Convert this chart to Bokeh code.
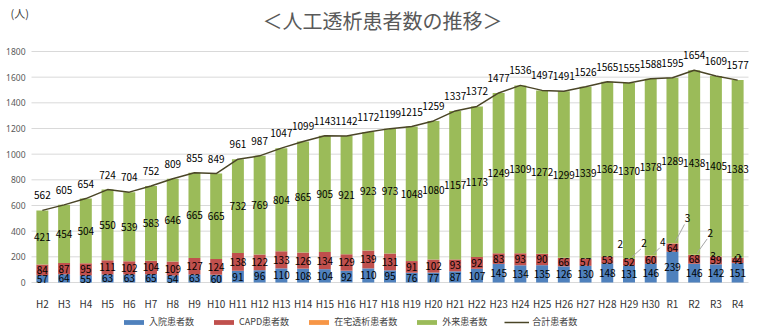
from bokeh.plotting import figure
from bokeh.models import (ColumnDataSource, Range1d, FixedTicker, Legend, LegendItem)
from bokeh.core.properties import value
from bokeh.embed import file_html
from bokeh.resources import INLINE

categories = ["H2", "H3", "H4", "H5", "H6", "H7", "H8", "H9", "H10", "H11", "H12", "H13",
              "H14", "H15", "H16", "H17", "H18", "H19", "H20", "H21", "H22", "H23", "H24",
              "H25", "H26", "H27", "H28", "H29", "H30", "R1", "R2", "R3", "R4"]
inpatient = [57, 64, 55, 63, 63, 65, 54, 63, 60, 91, 96, 110, 108, 104, 92, 110, 95, 76, 77,
             87, 107, 145, 134, 135, 126, 130, 148, 131, 146, 239, 146, 142, 151]
capd = [84, 87, 95, 111, 102, 104, 109, 127, 124, 138, 122, 133, 126, 134, 129, 139, 131, 91,
        102, 93, 92, 83, 93, 90, 66, 57, 53, 52, 60, 64, 68, 59, 41]
home = [0] * 26 + [2, 2, 4, 3, 2, 3, 2]
outpatient = [421, 454, 504, 550, 539, 583, 646, 665, 665, 732, 769, 804, 865, 905, 921, 923,
              973, 1048, 1080, 1157, 1173, 1249, 1309, 1272, 1299, 1339, 1362, 1370, 1378,
              1289, 1438, 1405, 1383]
total = [562, 605, 654, 724, 704, 752, 809, 855, 849, 961, 987, 1047, 1099, 1143, 1142, 1172,
         1199, 1215, 1259, 1337, 1372, 1477, 1536, 1497, 1491, 1526, 1565, 1555, 1588, 1595,
         1654, 1609, 1577]
y_ticks = [0, 200, 400, 600, 800, 1000, 1200, 1400, 1600, 1800]
Y_MAX = 1800
title_text = "＜人工透析患者数の推移＞"
unit_text = "(人)"

# home-dialysis label pixel offsets (layout only)
home_dx = [13, 15, 12, 15, 16, -3, 1]
home_dy = [-13, -16, -14, -25, -22, -1, 0]
home_leader = [False, True, True, True, True, False, False]

BLUE, RED, ORANGE, GREEN, LINE = "#4F81BD", "#C0504D", "#F79646", "#9BBB59", "#4A4527"
FONT = "Noto Sans CJK JP"
NUM_FONT = "Noto Sans"

W, H = 757, 336
# plot-area placement inside the canvas (pixels)
PL, PR, PT, PB = 31, 9, 51, 54

n = len(categories)
xs = list(range(n))
b0 = [0] * n
b1 = inpatient
b2 = [a + c for a, c in zip(inpatient, capd)]
b3 = [a + h for a, h in zip(b2, home)]
b4 = [a + o for a, o in zip(b3, outpatient)]

src = ColumnDataSource(dict(
    x=xs, b0=b0, b1=b1, b2=b2, b3=b3, b4=b4, total=total,
    m_in=[(a + b) / 2 for a, b in zip(b0, b1)],
    m_capd=[(a + b) / 2 for a, b in zip(b1, b2)],
    m_out=[(a + b) / 2 for a, b in zip(b3, b4)],
    t_in=[str(v) for v in inpatient],
    t_capd=[str(v) for v in capd],
    t_out=[str(v) for v in outpatient],
    t_total=[str(v) for v in total],
))

ppc = (W - PL - PR) / n          # pixels per category
upp = Y_MAX / (H - PT - PB)      # data units per pixel (y)
x_rng = Range1d(-0.5 - PL / ppc, n - 0.5 + PR / ppc)
y_rng = Range1d(-PB * upp, Y_MAX + PT * upp)


def cx(px):  # canvas pixel x -> data x
    return -0.5 + (px - PL) / ppc


def cy(py):  # canvas pixel y (from top) -> data y
    return Y_MAX + (PT - py) * upp


p = figure(width=W, height=H, output_backend="svg", toolbar_location=None,
           x_range=x_rng, y_range=y_rng, y_axis_location=None,
           min_border_left=0, min_border_right=0, min_border_top=0, min_border_bottom=0)
p.outline_line_color = None
p.background_fill_color = "white"
p.border_fill_color = "white"
p.xgrid.visible = False
p.ygrid.visible = False

# horizontal gridlines across the plot area
p.segment(x0=[-0.5] * len(y_ticks), x1=[n - 0.5] * len(y_ticks), y0=y_ticks, y1=y_ticks,
          line_color="#D9D9D9", line_width=1)

# value-axis tick labels
ysrc = ColumnDataSource(dict(x=[-0.5] * len(y_ticks), y=y_ticks, t=[str(v) for v in y_ticks]))
p.text(x="x", y="y", text="t", source=ysrc, x_offset=-6, text_font=value(NUM_FONT),
       text_font_size="8.5px", text_color="#595959", text_align="right", text_baseline="middle")

p.xaxis.fixed_location = 0
p.xaxis.bounds = (-0.5, n - 0.5)
p.xaxis.ticker = FixedTicker(ticks=xs)
p.xaxis.major_label_overrides = {i: c for i, c in enumerate(categories)}
p.xaxis.axis_line_color = None
p.xaxis.major_tick_line_color = None
p.xaxis.minor_tick_line_color = None
p.xaxis.major_label_text_font = FONT
p.xaxis.major_label_text_font_size = "10px"
p.xaxis.major_label_text_color = "#333333"
p.xaxis.major_label_standoff = 7

bw = 0.55
r_in = p.vbar(x="x", bottom="b0", top="b1", width=bw, source=src, fill_color=BLUE, line_color=None)
r_capd = p.vbar(x="x", bottom="b1", top="b2", width=bw, source=src, fill_color=RED, line_color=None)
r_home = p.vbar(x="x", bottom="b2", top="b3", width=bw, source=src, fill_color=ORANGE, line_color=None)
r_out = p.vbar(x="x", bottom="b3", top="b4", width=bw, source=src, fill_color=GREEN, line_color=None)
r_tot = p.line(x="x", y="total", source=src, line_color=LINE, line_width=1.5)

lbl = dict(text_font=value(FONT), text_font_size="10px", text_color="#000000",
           text_align="center", text_baseline="middle")
p.text(x="x", y="m_in", text="t_in", source=src, **lbl)
p.text(x="x", y="m_capd", text="t_capd", source=src, **lbl)
p.text(x="x", y="m_out", text="t_out", source=src, **lbl)
p.text(x="x", y="total", text="t_total", source=src, y_offset=-15, **lbl)

# home dialysis labels with leader lines
px_x = 1 / ppc
hx, hy, ht, hdx, hdy = [], [], [], [], []
lx0, ly0, lx1, ly1 = [], [], [], []
k = 0
for i in range(n):
    if home[i] > 0:
        mid = (b2[i] + b3[i]) / 2
        hx.append(i); hy.append(mid); ht.append(str(home[i]))
        hdx.append(home_dx[k]); hdy.append(home_dy[k])
        if home_leader[k]:
            lx0.append(i + 3 * px_x); ly0.append(mid + 2 * upp)
            lx1.append(i + (home_dx[k] - 3) * px_x); ly1.append(mid - (home_dy[k] + 6) * upp)
        k += 1
p.segment(x0=lx0, y0=ly0, x1=lx1, y1=ly1, line_color="#A6A6A6", line_width=1)
hsrc = ColumnDataSource(dict(x=hx, y=hy, t=ht, dx=hdx, dy=hdy))
p.text(x="x", y="y", text="t", x_offset="dx", y_offset="dy", source=hsrc, **lbl)

# title and unit texts
p.text(x=[cx(382)], y=[cy(20)], text=[title_text], text_font=value(FONT),
       text_font_size="20px", text_color="#595959", text_align="center", text_baseline="middle")
p.text(x=[cx(10)], y=[cy(12)], text=[unit_text], text_font=value(FONT),
       text_font_size="11px", text_color="#404040", text_align="left", text_baseline="middle")

legend = Legend(items=[
    LegendItem(label="入院患者数", renderers=[r_in]),
    LegendItem(label="CAPD患者数", renderers=[r_capd]),
    LegendItem(label="在宅透析患者数", renderers=[r_home]),
    LegendItem(label="外来患者数", renderers=[r_out]),
    LegendItem(label="合計患者数", renderers=[r_tot]),
], orientation="horizontal", location=(121, 8))
legend.padding = 0
legend.margin = 0
legend.spacing = 17
legend.glyph_width = 25
legend.glyph_height = 6
legend.label_height = 12
legend.label_standoff = 3
legend.label_text_font = FONT
legend.label_text_font_size = "9px"
legend.label_text_color = "#404040"
legend.border_line_color = None
legend.background_fill_alpha = 0
p.add_layout(legend, "center")

open("out.html", "w").write(file_html(p, INLINE))
